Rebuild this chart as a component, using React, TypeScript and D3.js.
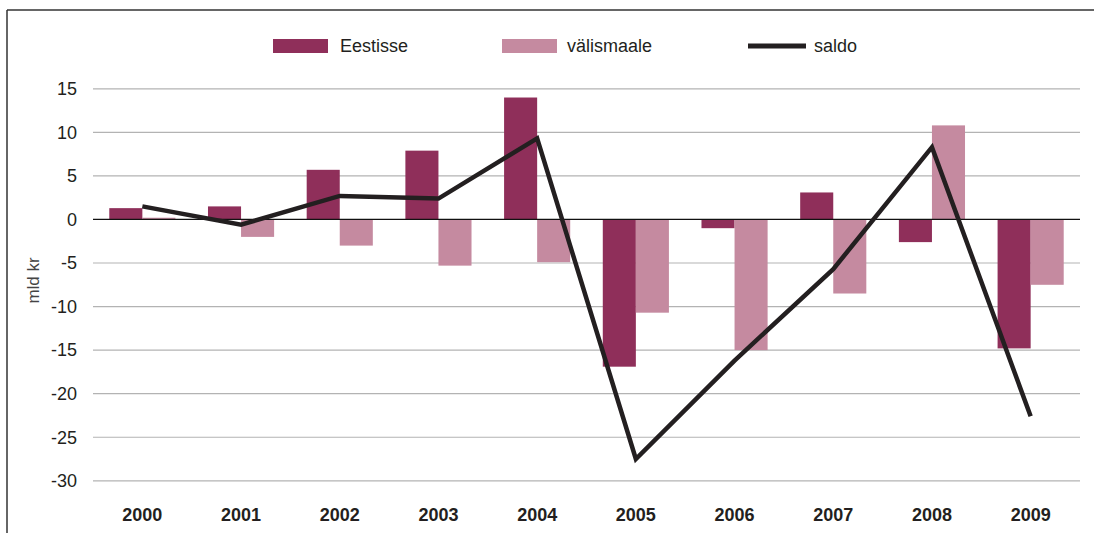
import React from "react";
import * as d3 from "d3";

const years = ["2000", "2001", "2002", "2003", "2004", "2005", "2006", "2007", "2008", "2009"];
const eestisse = [1.3, 1.5, 5.7, 7.9, 14.0, -16.9, -1.0, 3.1, -2.6, -14.8];
const valismaale = [0.2, -2.0, -3.0, -5.3, -4.9, -10.7, -15.0, -8.5, 10.8, -7.5];
const saldo = [1.5, -0.6, 2.7, 2.4, 9.3, -27.5, -16.2, -5.7, 8.3, -22.6];
const yTicks = [15, 10, 5, 0, -5, -10, -15, -20, -25, -30];

const W = 1094;
const H = 533;
const left = 93;
const right = 1080;
const font = "'Liberation Sans', Arial, Helvetica, sans-serif";

export default function App() {
  const x = d3.scaleBand<string>().domain(years).range([left, right]).paddingInner(0).paddingOuter(0);
  const y = d3.scaleLinear().domain([-30, 15]).range([480.8, 88.8]);
  const bw = x.bandwidth();
  const barW = bw * 0.335;
  const line = d3
    .line<number>()
    .x((_, i) => (x(years[i]) as number) + bw / 2)
    .y((d) => y(d));

  const bar = (v: number) => ({ yy: Math.min(y(v), y(0)), h: Math.abs(y(v) - y(0)) });

  return (
    <svg width={W} height={H} style={{ position: "absolute", left: 0, top: 0, display: "block" }}>
      <rect x={0} y={0} width={W} height={H} fill="#fff" />
      <line x1={7} x2={W} y1={10} y2={10} stroke="#333" strokeWidth={1.5} />
      <line x1={7} x2={7} y1={10} y2={H} stroke="#333" strokeWidth={1.5} />
      {yTicks.map((t) => (
        <g key={t}>
          {t !== 0 && (
            <line x1={left} x2={right} y1={y(t)} y2={y(t)} stroke="#b3b3b3" strokeWidth={1.2} />
          )}
          <text x={77} y={y(t)} dy="0.35em" textAnchor="end" fontFamily={font} fontSize={18} fill="#231f20">
            {t}
          </text>
        </g>
      ))}
      {years.map((yr, i) => {
        const cx = (x(yr) as number) + bw / 2;
        const a = bar(eestisse[i]);
        const b = bar(valismaale[i]);
        return (
          <g key={yr}>
            <rect x={cx - barW} y={a.yy} width={barW} height={a.h} fill="#8f2f5a" />
            <rect x={cx} y={b.yy} width={barW} height={b.h} fill="#c58aa0" />
            <text x={cx} y={521} textAnchor="middle" fontFamily={font} fontSize={18} fontWeight="bold" fill="#231f20">
              {yr}
            </text>
          </g>
        );
      })}
      <line x1={left} x2={right} y1={y(0)} y2={y(0)} stroke="#111" strokeWidth={1.2} />
      <path d={line(saldo) || ""} fill="none" stroke="#231f20" strokeWidth={4.5} strokeLinejoin="miter" />
      <text
        transform={`translate(39,${y(-7)}) rotate(-90)`}
        textAnchor="middle"
        fontFamily={font}
        fontSize={17}
        fill="#444"
      >
        mld kr
      </text>
      <g fontFamily={font} fontSize={18} fill="#231f20">
        <rect x={273} y={39} width={55} height={14} fill="#8f2f5a" />
        <text x={340} y={46} dy="0.35em">Eestisse</text>
        <rect x={502} y={39} width={55} height={14} fill="#c58aa0" />
        <text x={567} y={46} dy="0.35em">välismaale</text>
        <line x1={748} x2={806} y1={46} y2={46} stroke="#231f20" strokeWidth={5} />
        <text x={814} y={46} dy="0.35em">saldo</text>
      </g>
    </svg>
  );
}
